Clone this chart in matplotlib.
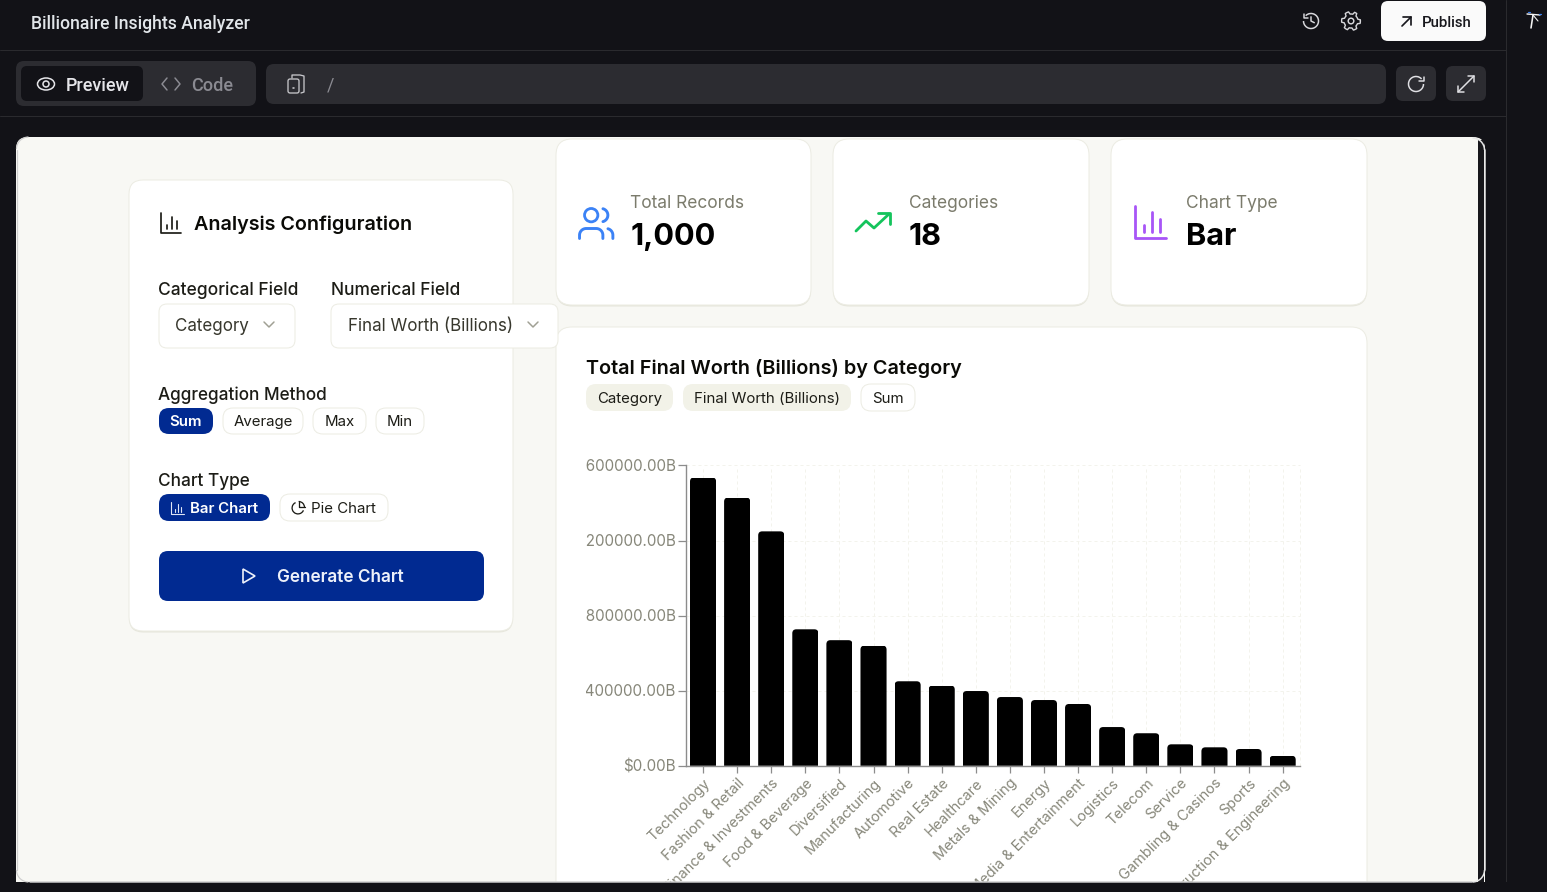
import numpy as np
import matplotlib
matplotlib.use("Agg")
import matplotlib.pyplot as plt
from matplotlib.patches import FancyBboxPatch, Circle, Arc, Ellipse, Polygon
from matplotlib.path import Path
from matplotlib.transforms import Bbox

categories = ["Technology", "Fashion & Retail", "Finance & Investments", "Food & Beverage",
              "Diversified", "Manufacturing", "Automotive", "Real Estate", "Healthcare",
              "Metals & Mining", "Energy", "Media & Entertainment", "Logistics", "Telecom",
              "Service", "Gambling & Casinos", "Sports", "Construction & Engineering"]
worth = [1536000, 1429000, 1249000, 727000, 669000, 640000, 450000, 427000, 398000,
         366000, 350000, 329000, 206000, 173000, 114000, 98000, 89000, 53000]
y_ticks = [0, 400000, 800000, 1200000, 1600000]
y_tick_labels = ["$0.00B", "$400000.00B", "$800000.00B", "$1200000.00B", "$1600000.00B"]

W, H = 1547, 892
DARK = "#121217"
PANEL = "#2c2c31"
PAGE = "#f8f8f4"
BORDER = "#ecece3"
SHADOW = "#e6e6dc"
NAVY = "#012a91"
FONT = ["Inter", "DejaVu Sans"]
UIFONT = ["Roboto", "DejaVu Sans"]

fig = plt.figure(figsize=(W / 100, H / 100), dpi=100, facecolor=DARK)


def make_layer(z):
    a = fig.add_axes([0, 0, 1, 1], zorder=z)
    a.set_xlim(0, W)
    a.set_ylim(H, 0)
    a.axis("off")
    a.patch.set_alpha(0)
    return a


ui = make_layer(0)
top = make_layer(5)


def box(a, x0, y0, x1, y1, r=8, fc="white", ec="none", lw=1, z=1):
    p = FancyBboxPatch((x0 + r, y0 + r), x1 - x0 - 2 * r, y1 - y0 - 2 * r,
                       boxstyle=f"round,pad={r},rounding_size={r}",
                       fc=fc, ec=ec, lw=lw * 0.72, zorder=z)
    a.add_patch(p)


def card(a, x0, y0, x1, y1, r):
    box(a, x0, y0 + 1.5, x1, y1 + 1.5, r, SHADOW, z=1.5)
    box(a, x0, y0, x1, y1, r, "white", BORDER, 1, 2)


def txt(a, x, y, s, px, color="#000000", weight="normal", ha="left", fam=FONT):
    a.text(x, y - 0.6, s, fontsize=px * 0.72, color=color, weight=weight, ha=ha, va="center_baseline",
           family=fam, zorder=6)


def line(a, xs, ys, color, lw=1.5):
    a.plot(xs, ys, color=color, lw=lw * 0.72, solid_capstyle="round", solid_joinstyle="round", zorder=6)


def arc(a, cx, cy, r, t0, t1, color, lw=1.5):
    # on the inverted y axis 0 is right, 90 bottom, 180 left, 270 top
    a.add_patch(Arc((cx, cy), 2 * r, 2 * r, theta1=t0, theta2=t1, color=color, lw=lw * 0.72, zorder=6))


def bar_icon(a, x0, y0, x1, y1, color, lw=1.5):
    line(a, [x0, x0, x1], [y0, y1, y1], color, lw)
    w = x1 - x0
    h = y1 - y0
    for fx, fy in [(0.3, 0.6), (0.55, 0.2), (0.8, 0.4)]:
        line(a, [x0 + fx * w] * 2, [y0 + fy * h, y0 + 0.82 * h], color, lw)


def curve(cx, cy, r, t0, t1):
    t = np.radians(np.linspace(t0, t1, 24))
    return list(zip(cx + r * np.cos(t), cy + r * np.sin(t)))


def glyph(a, x0, y0, s, pts, color, lw):
    line(a, [x0 + s * p[0] for p in pts], [y0 + s * p[1] for p in pts], color, lw)


# ---------- Application chrome ----------
line(ui, [0, 1506], [50.2, 50.2], "#2a2a2e", 1)
line(ui, [0, 1506], [116.2, 116.2], "#2a2a2e", 1)
line(ui, [1506.3, 1506.3], [0, H], "#2a2a2e", 1)
txt(ui, 31, 22.5, "Billionaire Insights Analyzer", 17.6, "#e2e6ea", "medium", fam=UIFONT)

arc(ui, 1311, 21, 7.5, 225, 540, "#d8d8dc")
line(ui, [1303.5, 1303.5, 1307.7], [13.5, 17.7, 17.7], "#d8d8dc")
line(ui, [1311, 1311, 1314.3], [16.8, 21, 22.7], "#d8d8dc")
ang = np.linspace(0, 2 * np.pi, 49)
rad = 8.2 + 1.2 * np.sign(np.cos(6 * ang))
line(ui, 1351 + rad * np.cos(ang), 21 + rad * np.sin(ang), "#d8d8dc", 1.4)
ui.add_patch(Circle((1351, 21), 2.8, fc="none", ec="#d8d8dc", lw=1.05, zorder=6))

box(ui, 1381, 1, 1486, 41, 7, "#fafafa")
line(ui, [1402, 1411], [26, 17], "#17171c", 1.7)
line(ui, [1403, 1411, 1411], [17, 17, 25], "#17171c", 1.7)
txt(ui, 1422, 22, "Publish", 15, "#17171c", "medium", fam=UIFONT)

line(ui, [1527, 1540], [14, 15], "#f4f4f4", 1.4)
line(ui, [1533, 1531], [15, 28], "#f4f4f4", 1.6)
line(ui, [1533, 1538], [15, 21], "#f4f4f4", 1.1)
line(ui, [1528, 1530], [12, 12], "#3b82f6", 1.2)
line(ui, [1539, 1541], [14, 14], "#3b82f6", 1.2)

box(ui, 16, 61, 256, 106, 8, PANEL)
box(ui, 21, 66, 143, 101, 6, DARK)
ui.add_patch(Ellipse((46, 84), 17, 12, fc="none", ec="#e6e6ea", lw=1.1, zorder=6))
ui.add_patch(Circle((46, 84), 3, fc="none", ec="#e6e6ea", lw=1.1, zorder=6))
txt(ui, 66, 85, "Preview", 18, "#e6e6ea", "medium", fam=UIFONT)
line(ui, [167, 162, 167], [78, 84, 90], "#8b8b92")
line(ui, [175, 180, 175], [78, 84, 90], "#8b8b92")
txt(ui, 191, 85, "Code", 18, "#8b8b92", "medium", fam=UIFONT)

box(ui, 266, 64, 1386, 104, 8, PANEL)
box(ui, 288, 79, 299, 93, 2, "none", "#c8c8cc", 1.3, 6)
line(ui, [292, 292, 300, 304, 304, 301], [78, 75, 75, 76, 92, 93], "#c8c8cc", 1.3)
line(ui, [293, 293.5], [88, 88], "#c8c8cc", 1.6)
txt(ui, 327, 84, "/", 18, "#8b8b92", fam=UIFONT)

box(ui, 1396, 66, 1436, 101, 7, PANEL)
box(ui, 1446, 66, 1486, 101, 7, PANEL)
arc(ui, 1416, 84, 7.5, 0, 318, "#e0e0e4")
line(ui, [1423.5, 1423.5, 1419.3], [76.5, 80.7, 80.7], "#e0e0e4")
line(ui, [1458, 1474], [92, 76], "#e0e0e4")
line(ui, [1468, 1474, 1474], [76, 76, 82], "#e0e0e4")
line(ui, [1458, 1458, 1464], [86, 92, 92], "#e0e0e4")

# ---------- Preview page ----------
box(ui, 16, 137, 1485, 905, 12, PAGE)

card(ui, 129, 180, 513, 631, 14)
bar_icon(ui, 161, 213, 181, 233, "#1a1a14", 1.7)
txt(ui, 194.5, 223, "Analysis Configuration", 19.8, "#0a0a06", "semibold")
txt(ui, 158.5, 289, "Categorical Field", 17.4, "#1c1c16", "medium")
txt(ui, 331, 289, "Numerical Field", 17.4, "#1c1c16", "medium")
box(ui, 159, 304, 295, 348, 8, "white", BORDER, 1, 2.5)
txt(ui, 175, 325, "Category", 17, "#37372d")
line(ui, [264, 269, 274], [322, 327, 322], "#a0a094")
box(ui, 331, 304, 558, 348, 8, "white", BORDER, 1, 2.5)
txt(ui, 348, 325, "Final Worth (Billions)", 17, "#37372d")
line(ui, [528, 533, 538], [322, 327, 322], "#a0a094")

txt(ui, 158.5, 394, "Aggregation Method", 17.2, "#1c1c16", "medium")
for x0, x1, label, active in [(159, 213, "Sum", True), (223, 303, "Average", False),
                              (313, 366, "Max", False), (376, 424, "Min", False)]:
    box(ui, x0, 408, x1, 434, 10, NAVY if active else "white", "none" if active else BORDER, 1, 2.5)
    txt(ui, (x0 + x1) / 2, 421, label, 15, "white" if active else "#1c1c16",
        "semibold" if active else "normal", ha="center")

txt(ui, 158.5, 480, "Chart Type", 17.2, "#1c1c16", "medium")
box(ui, 159, 494, 270, 521, 10, NAVY, z=2.5)
bar_icon(ui, 171, 502, 184, 514, "#dfe5f5", 1.1)
txt(ui, 190, 508, "Bar Chart", 15, "white", "semibold")
box(ui, 280, 494, 388, 521, 10, "white", BORDER, 1, 2.5)
arc(ui, 298, 508, 5.9, 23, 246, "#1c1c16", 1.3)
arc(ui, 298.6, 507.4, 5.9, 270, 360, "#1c1c16", 1.3)
line(ui, [298.6, 298.6, 304.5], [501.5, 507.4, 507.4], "#1c1c16", 1.3)
txt(ui, 311, 508, "Pie Chart", 15, "#1c1c16")
box(ui, 159, 551, 484, 601, 9, NAVY, z=2.5)
ui.add_patch(Polygon([(243, 569), (243, 583), (255, 576)], closed=True, fc="none", ec="#eef1fa", lw=1.2, zorder=6))
txt(ui, 277, 576, "Generate Chart", 17.2, "#eef1fa", "semibold")

for x0, x1 in [(556, 811), (833, 1089), (1111, 1367)]:
    card(ui, x0, 139, x1, 305, 16)
stat_label = "#7b7b6c"
txt(ui, 630.5, 202, "Total Records", 17.4, stat_label)
txt(ui, 630.5, 235, "1,000", 30.6, "#000000", "bold")
txt(ui, 908.5, 202, "Categories", 17.4, stat_label)
txt(ui, 908.5, 235, "18", 30.6, "#000000", "bold")
txt(ui, 1186.5, 202, "Chart Type", 17.4, stat_label)
txt(ui, 1186.5, 235, "Bar", 30.6, "#000000", "bold")

BLUE = "#3b82f6"
ux, uy, us = 576.2, 203.5, 1.667
ui.add_patch(Circle((ux + 9 * us, uy + 7 * us), 4 * us, fc="none", ec=BLUE, lw=2.0, zorder=6))
glyph(ui, ux, uy, us, [(16, 21)] + curve(12, 19, 4, 0, -90) + curve(6, 19, 4, -90, -180) + [(2, 21)], BLUE, 2.9)
glyph(ui, ux, uy, us, [(22, 21)] + curve(18, 19, 4, 0, -75), BLUE, 2.9)
glyph(ui, ux, uy, us, curve(15, 7, 4, -75, 75), BLUE, 2.9)
GREEN = "#14c45c"
line(ui, [856, 866, 874, 889], [231, 221, 228, 214], GREEN, 2.8)
line(ui, [878, 890, 890], [213, 213, 224], GREEN, 2.8)
bar_icon(ui, 1135, 206, 1166, 238, "#a855f7", 2.8)

card(ui, 556, 327, 1367, 920, 16)
txt(ui, 586, 367, "Total Final Worth (Billions) by Category", 19.85, "#0a0a06", "semibold")
box(ui, 586, 384, 673, 411, 10, "#f2f2e8", z=3)
txt(ui, 597, 398, "Category", 15, "#1c1c16")
box(ui, 683, 384, 851, 411, 10, "#f2f2e8", z=3)
txt(ui, 694, 398, "Final Worth (Billions)", 15, "#1c1c16")
box(ui, 861, 384, 915, 411, 10, "white", BORDER, 1, 3)
txt(ui, 872, 398, "Sum", 15, "#1c1c16")

# ---------- The chart ----------
AX_L, AX_R, AX_T, AX_B = 686, 1299.7, 465.5, 765.7
ax = fig.add_axes([AX_L / W, 1 - AX_B / H, (AX_R - AX_L) / W, (AX_B - AX_T) / H], zorder=2)
ax.patch.set_alpha(0)
x = np.arange(len(categories))
ax.set_xlim(-0.5, len(categories) - 0.5)
ax.set_ylim(0, y_ticks[-1])

GRID = "#f3f3ec"
ax.grid(True, color=GRID, lw=0.72, linestyle=(0, (3, 3)), zorder=0, clip_on=False)
ax.axvline(len(categories) - 0.5, color=GRID, lw=0.72, linestyle=(0, (3, 3)), zorder=0, clip_on=False)
ax.set_axisbelow(True)

bar_w = 0.765
bars = ax.bar(x, worth, width=bar_w, color="#000000", zorder=3)
px_x = (AX_R - AX_L) / len(categories)
px_y = (AX_B - AX_T) / y_ticks[-1]
rx, ry = 4 / px_x, 4 / px_y
for xi, v, b in zip(x, worth, bars):
    l, r = xi - bar_w / 2, xi + bar_w / 2
    verts = [(l, 0), (l, v - ry), (l, v), (l + rx, v), (r - rx, v), (r, v), (r, v - ry), (r, 0), (l, 0)]
    codes = [Path.MOVETO, Path.LINETO, Path.CURVE3, Path.CURVE3, Path.LINETO,
             Path.CURVE3, Path.CURVE3, Path.LINETO, Path.CLOSEPOLY]
    b.set_clip_path(Path(verts, codes), transform=ax.transData)

for s in ["top", "right"]:
    ax.spines[s].set_visible(False)
for s in ["left", "bottom"]:
    ax.spines[s].set_color("#8c8c8c")
    ax.spines[s].set_linewidth(1.0)

TICK_TXT = "#87877a"
ax.set_yticks(y_ticks)
ax.set_yticklabels(y_tick_labels, fontsize=15.2 * 0.72, color=TICK_TXT, family=FONT)
ax.set_xticks(x)
ax.set_xticklabels(categories, fontsize=14.5 * 0.72, color=TICK_TXT, family=FONT, rotation=45,
                   ha="right", va="top", rotation_mode="anchor")
ax.tick_params(axis="y", length=5.8, width=0.9, color="#8c8c8c", pad=1.5)
ax.tick_params(axis="x", length=5.0, width=0.9, color="#8c8c8c", pad=2.5)

clip = Bbox([[585.5, 0], [W, H]])
for lab in ax.get_yticklabels():
    lab.set_clip_box(clip)
    lab.set_clip_on(True)

# ---------- Frame that crops the preview ----------
top.fill_between([0, W], 882, H, color=DARK, zorder=1, lw=0)
line(top, [30, 1472], [881.7, 881.7], "#cfcfcf", 1.5)
top.fill_between([1478, 1484], 140, 882, color="#17171b", zorder=1, lw=0)
top.fill_between([0, 15.5], 137, 882, color=DARK, zorder=1, lw=0)
top.fill_between([1485, 1506], 137, 882, color=DARK, zorder=1, lw=0)
line(top, [1484.5, 1484.5], [150, 870], "#e6e6e6", 1.5)
line(top, [16.5, 16.5], [150, 870], "#cfcfcf", 1.2)
arc(top, 1472.5, 150, 12, -90, 0, "#e6e6e6", 1.5)
arc(top, 1472.5, 870, 12, 0, 90, "#e6e6e6", 1.5)
arc(top, 28.5, 870, 12, 90, 180, "#cfcfcf", 1.2)
arc(top, 28.5, 149, 12, 180, 270, "#cfcfcf", 1.2)

fig.savefig("out.png", dpi=100, facecolor=DARK)
